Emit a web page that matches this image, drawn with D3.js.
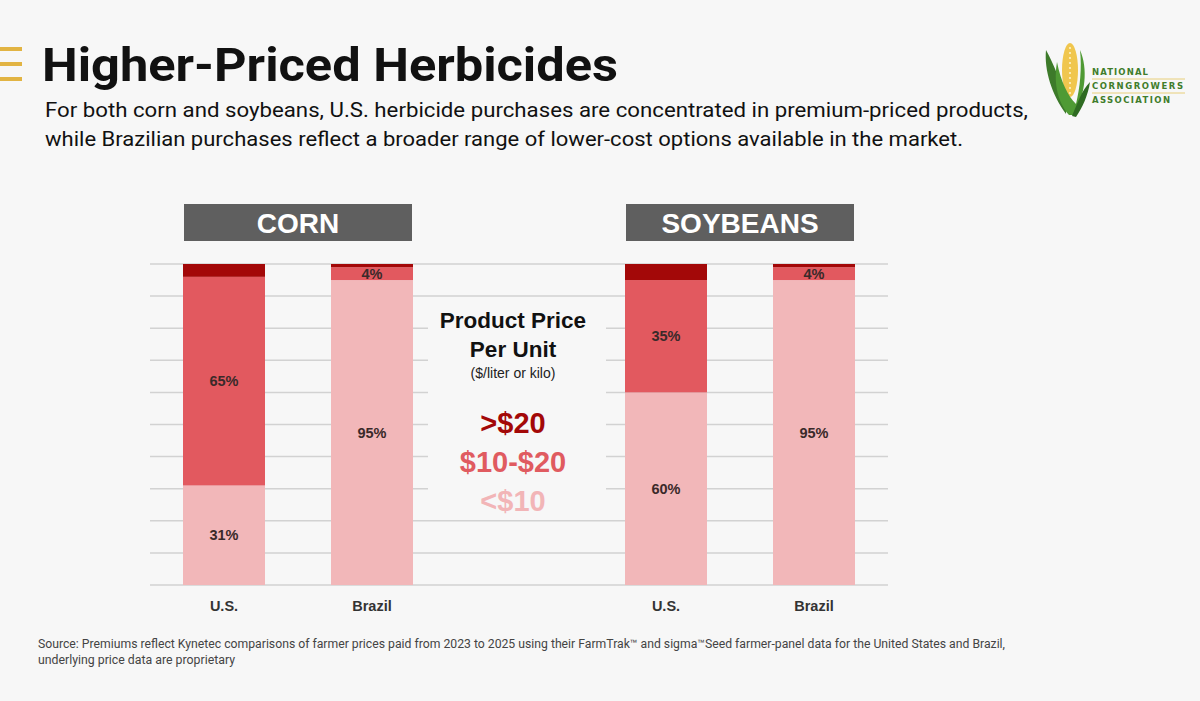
<!DOCTYPE html>
<html>
<head>
<meta charset="utf-8">
<script src="https://cdn.jsdelivr.net/npm/d3@7"></script>
<style>
  html, body { margin: 0; padding: 0; background: #f7f7f7; }
  svg { display: block; }
</style>
</head>
<body>
<div id="chart"></div>
<script>
var width = 1200, height = 701;

// data
var crops = ['CORN', 'SOYBEANS'];
var countries = ['U.S.', 'Brazil'];
var under10 = [31, 95, 60, 95];   // <$10
var mid10to20 = [65, 4, 35, 4];   // $10-$20
var over20 = [4, 1, 5, 1];        // >$20
var gridTicks = [0, 10, 20, 30, 40, 50, 60, 70, 80, 90, 100];
var legendLabels = ['>$20', '$10-$20', '<$10'];

var colors = { over: '#a30808', mid: '#e2595f', low: '#f2b7b9' };

var svg = d3.select('#chart').append('svg')
    .attr('width', width)
    .attr('height', height);

svg.append('rect').attr('width', width).attr('height', height).attr('fill', '#f7f7f7');

// title block
svg.selectAll('.gold').data([0, 1, 2]).enter()
    .append('rect')
    .attr('x', 0).attr('y', function (d) { return 47 + d * 15; })
    .attr('width', 22).attr('height', 4)
    .attr('fill', '#e2b443');

svg.append('text')
    .attr('x', 42).attr('y', 81)
    .attr('font-family', 'Roboto, sans-serif')
    .attr('font-weight', 700)
    .attr('font-size', 47)
    .attr('fill', '#111')
    .attr('textLength', 576).attr('lengthAdjust', 'spacingAndGlyphs')
    .text('Higher-Priced Herbicides');

var subtitle = [
    'For both corn and soybeans, U.S. herbicide purchases are concentrated in premium-priced products,',
    'while Brazilian purchases reflect a broader range of lower-cost options available in the market.'
];
var subLen = [983, 918];
svg.selectAll('.sub').data(subtitle).enter()
    .append('text')
    .attr('x', 45).attr('y', function (d, i) { return 117 + i * 29; })
    .attr('font-family', 'Roboto, sans-serif')
    .attr('font-size', 21)
    .attr('fill', '#111')
    .attr('textLength', function (d, i) { return subLen[i]; })
    .attr('lengthAdjust', 'spacingAndGlyphs')
    .text(function (d) { return d; });

// logo
var logo = svg.append('g').attr('transform', 'translate(1044,40)');
logo.append('path')
    .attr('d', 'M22,74 C8,55 0,30 2,10 C10,24 16,42 22,56 Z')
    .attr('fill', '#3d7a2a');
logo.append('ellipse')
    .attr('cx', 26).attr('cy', 30).attr('rx', 8).attr('ry', 27)
    .attr('fill', '#f0c64e');
logo.selectAll('.kern').data(d3.range(10)).enter()
    .append('circle')
    .attr('cx', 26).attr('cy', function (d) { return 8 + d * 5; })
    .attr('r', 1.1).attr('fill', '#fff3c4');
logo.append('path')
    .attr('d', 'M25,75 C12,60 10,40 13,22 C17,42 24,56 32,64 C36,48 38,28 36,10 C44,28 42,55 29,75 Z')
    .attr('fill', '#4f9a34');
logo.append('path')
    .attr('d', 'M28,76 C34,62 38,50 46,42 C44,56 38,68 32,77 Z')
    .attr('fill', '#2f6b22');

var logoText = ['NATIONAL', 'CORNGROWERS', 'ASSOCIATION'];
var logoLen = [56, 91, 78];
logo.selectAll('.lt').data(logoText).enter()
    .append('text')
    .attr('x', 48).attr('y', function (d, i) { return 35 + i * 14; })
    .attr('font-family', 'DejaVu Sans, sans-serif')
    .attr('font-weight', 700)
    .attr('font-size', 8.5)
    .attr('fill', '#3f7d2b')
    .attr('textLength', function (d, i) { return logoLen[i]; })
    .attr('lengthAdjust', 'spacing')
    .text(function (d) { return d; });
logo.selectAll('.ll').data([0, 1]).enter()
    .append('line')
    .attr('x1', 48).attr('x2', 141)
    .attr('y1', function (d) { return 39 + d * 14; })
    .attr('y2', function (d) { return 39 + d * 14; })
    .attr('stroke', '#e8cf7a').attr('stroke-width', 1);

// scales
var y = d3.scaleLinear().domain([0, 100]).range([585, 264]);
var xGroup = d3.scalePoint().domain(crops).range([298, 740]);
var xBar = d3.scaleBand().domain(countries).range([0, 230]).paddingInner(0.446).paddingOuter(0);

// grid
svg.append('g').selectAll('line')
    .data(gridTicks).enter()
    .append('line')
    .attr('x1', 150).attr('x2', 888)
    .attr('y1', function (d) { return y(d); })
    .attr('y2', function (d) { return y(d); })
    .attr('stroke', '#d2d2d2')
    .attr('stroke-width', 1.5);

// bar table
var rows = [];
crops.forEach(function (crop, ci) {
    countries.forEach(function (country, k) {
        var i = ci * 2 + k;
        rows.push({ crop: crop, country: country, low: under10[i], mid: mid10to20[i], over: over20[i] });
    });
});

function barX(d) { return xGroup(d.crop) - 115 + xBar(d.country); }

var bars = svg.append('g').selectAll('g')
    .data(rows).enter()
    .append('g');

// <$10
bars.append('rect')
    .attr('x', barX).attr('width', xBar.bandwidth())
    .attr('y', function (d) { return y(d.low); })
    .attr('height', function (d) { return y(0) - y(d.low); })
    .attr('fill', colors.low);
// $10-$20
bars.append('rect')
    .attr('x', barX).attr('width', xBar.bandwidth())
    .attr('y', function (d) { return y(d.low + d.mid); })
    .attr('height', function (d) { return y(d.low) - y(d.low + d.mid); })
    .attr('fill', colors.mid);
// >$20
bars.append('rect')
    .attr('x', barX).attr('width', xBar.bandwidth())
    .attr('y', function (d) { return y(d.low + d.mid + d.over); })
    .attr('height', function (d) { return y(d.low + d.mid) - y(d.low + d.mid + d.over); })
    .attr('fill', colors.over);

var labelStyle = function (sel) {
    sel.attr('text-anchor', 'middle')
        .attr('dominant-baseline', 'central')
        .attr('font-family', 'Liberation Sans, Arial, sans-serif')
        .attr('font-weight', 700)
        .attr('font-size', 14.5)
        .attr('fill', '#3a2a2a');
};

bars.append('text')
    .attr('x', function (d) { return barX(d) + xBar.bandwidth() / 2; })
    .attr('y', function (d) { return y(d.low / 2); })
    .call(labelStyle)
    .text(function (d) { return d.low + '%'; });
bars.append('text')
    .attr('x', function (d) { return barX(d) + xBar.bandwidth() / 2; })
    .attr('y', function (d) { return y(d.low + d.mid / 2); })
    .call(labelStyle)
    .text(function (d) { return d.mid + '%'; });

// x labels
bars.append('text')
    .attr('x', function (d) { return barX(d) + xBar.bandwidth() / 2; })
    .attr('y', 606)
    .attr('text-anchor', 'middle')
    .attr('dominant-baseline', 'central')
    .attr('font-family', 'Liberation Sans, Arial, sans-serif')
    .attr('font-weight', 700)
    .attr('font-size', 14.5)
    .attr('fill', '#333')
    .text(function (d) { return d.country; });

// crop headers
var heads = svg.append('g').selectAll('g')
    .data(crops).enter()
    .append('g');
heads.append('rect')
    .attr('x', function (d) { return xGroup(d) - 114; })
    .attr('y', 204).attr('width', 228).attr('height', 37)
    .attr('fill', '#5f5f5f');
heads.append('text')
    .attr('x', function (d) { return xGroup(d); })
    .attr('y', 223)
    .attr('text-anchor', 'middle')
    .attr('dominant-baseline', 'central')
    .attr('font-family', 'Liberation Sans, Arial, sans-serif')
    .attr('font-weight', 700)
    .attr('font-size', 28)
    .attr('fill', '#fff')
    .text(function (d) { return d; });

// legend in the middle
var lx = 513;
svg.append('rect')
    .attr('x', 428).attr('y', 300).attr('width', 178).attr('height', 219)
    .attr('fill', '#f7f7f7');

var legTitle = svg.append('g')
    .attr('font-family', 'Liberation Sans, Arial, sans-serif')
    .attr('text-anchor', 'middle')
    .attr('fill', '#111');
legTitle.append('text').attr('x', lx).attr('y', 328)
    .attr('font-weight', 700).attr('font-size', 22.5).text('Product Price');
legTitle.append('text').attr('x', lx).attr('y', 357)
    .attr('font-weight', 700).attr('font-size', 22.5).text('Per Unit');
legTitle.append('text').attr('x', lx).attr('y', 378)
    .attr('font-size', 14).attr('fill', '#222').text('($/liter or kilo)');

var legColors = [colors.over, '#e05b60', '#f2b5b7'];
svg.append('g').selectAll('text')
    .data(legendLabels).enter()
    .append('text')
    .attr('x', lx)
    .attr('y', function (d, i) { return 433 + i * 39; })
    .attr('text-anchor', 'middle')
    .attr('font-family', 'Liberation Sans, Arial, sans-serif')
    .attr('font-weight', 700)
    .attr('font-size', 29)
    .attr('fill', function (d, i) { return legColors[i]; })
    .text(function (d) { return d; });

// source
var source = [
    'Source: Premiums reflect Kynetec comparisons of farmer prices paid from 2023 to 2025 using their FarmTrak\u2122 and sigma\u2122Seed farmer-panel data for the United States and Brazil,',
    'underlying price data are proprietary'
];
var srcLen = [967, 197];
svg.selectAll('.src').data(source).enter()
    .append('text')
    .attr('x', 38).attr('y', function (d, i) { return 648 + i * 16; })
    .attr('font-family', 'Roboto, sans-serif')
    .attr('font-size', 12)
    .attr('fill', '#444')
    .attr('textLength', function (d, i) { return srcLen[i]; })
    .attr('lengthAdjust', 'spacingAndGlyphs')
    .text(function (d) { return d; });
</script>
</body>
</html>
